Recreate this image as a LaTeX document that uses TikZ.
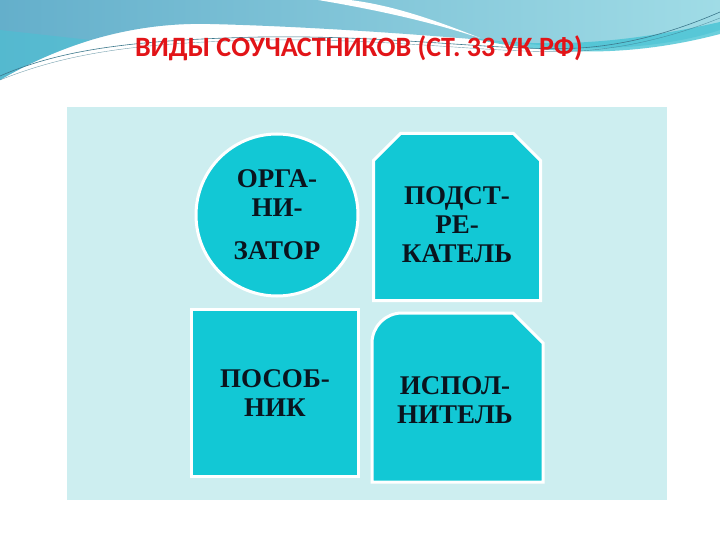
\documentclass[tikz,border=0pt]{standalone}
\usepackage{fontspec}
\setmainfont{Liberation Serif}
\newfontfamily\titlefont{Carlito}
\usetikzlibrary{shapes.misc}

\definecolor{panelcyan}{RGB}{205,238,240}
\definecolor{tilecyan}{RGB}{18,200,213}
\definecolor{titlered}{RGB}{226,20,24}
\definecolor{inkdark}{RGB}{10,20,30}
\definecolor{bandblue}{RGB}{100,175,203}
\definecolor{bandlight}{RGB}{160,220,230}
\definecolor{streak}{RGB}{70,195,212}
\definecolor{thinline}{RGB}{60,120,140}

\tikzset{
  tile/.style={fill=tilecyan, draw=white, line width=3pt, text=inkdark,
    align=center, font=\bfseries\fontsize{27}{29}\selectfont},
  tiletext/.style={text=inkdark, align=center, font=\bfseries\fontsize{27}{29}\selectfont},
}

\begin{document}
\begin{tikzpicture}[x=1pt,y=-1pt]
    \useasboundingbox (0,0) rectangle (720,540);
    \fill[white] (0,0) rectangle (720,540);

    % top band
    \shade[left color=bandblue, right color=bandlight]
      (0,0) -- (720,0) -- (720,30) .. controls (690,40) and (640,50) .. (570,48)
      .. controls (470,38) and (330,27) .. (210,24)
      .. controls (130,22) and (60,45) .. (0,80) -- cycle;
    \fill[streak, opacity=.5] (0,80) .. controls (30,62) and (60,50) .. (90,40)
      -- (0,30) -- cycle;
    \fill[white] (318,0) .. controls (390,12) and (440,25) .. (480,38)
      .. controls (430,18) and (390,5) .. (350,0) -- cycle;
    \fill[streak, opacity=.8] (470,38) .. controls (560,50) and (640,40) .. (720,22)
      -- (720,34) .. controls (640,55) and (560,58) .. (470,38) -- cycle;
    \draw[thinline, line width=.6pt] (0,76) .. controls (60,50) and (130,40) .. (260,37)
      .. controls (400,35) and (500,52) .. (580,48) .. controls (640,44) and (690,25) .. (720,12);
    \draw[thinline, line width=.4pt, opacity=.7] (0,80) .. controls (70,52) and (140,43) .. (260,40)
      .. controls (400,38) and (500,55) .. (580,51) .. controls (640,47) and (690,30) .. (720,18);

    % title
    \node[font=\titlefont\bfseries\fontsize{28}{30}\selectfont, text=titlered, anchor=base]
      (title) at (359,57) {ВИДЫ СОУЧАСТНИКОВ (СТ.~33 УК РФ)};

    % panel
    \fill[panelcyan] (67,107) rectangle (667,500);

    \node[tile, circle, minimum size=162pt] (organiz) at (277,215) {ОРГА-\\НИ-\\[14pt]ЗАТОР};
    \node[tile, chamfered rectangle, chamfered rectangle corners={north west,north east},
      chamfered rectangle sep=13.5pt, minimum width=167pt, minimum height=167pt]
      (podstr) at (457,217) {\rule{0pt}{34pt}ПОДСТ-\\РЕ-\\КАТЕЛЬ};
    \node[tile, rectangle, minimum width=167pt, minimum height=167pt] (posob) at (275,393) {ПОСОБ-\\НИК};

    \filldraw[fill=tilecyan, draw=white, line width=3pt]
      (372,482) -- (372,343) arc[start angle=180, end angle=270, radius=30]
      -- (513,313) -- (543,343) -- (543,482) -- cycle;
    \node[tiletext] (ispoln) at (455,400) {ИСПОЛ-\\НИТЕЛЬ};
  \end{tikzpicture}
\end{document}
